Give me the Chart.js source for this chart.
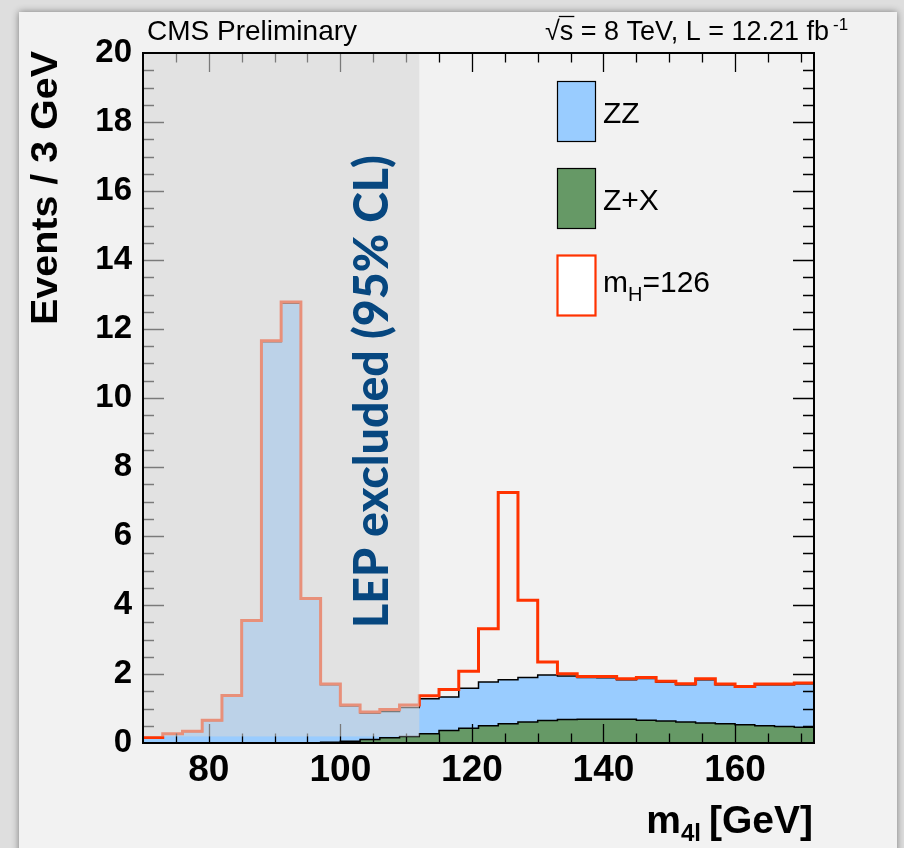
<!DOCTYPE html>
<html>
<head>
<meta charset="utf-8">
<title>CMS m4l</title>
<script src="https://cdn.jsdelivr.net/npm/chart.js@4.4.1/dist/chart.umd.min.js"></script>
<style>
  html, body { margin: 0; padding: 0; }
  body { width: 904px; height: 848px; background: #dedede; position: relative; overflow: hidden; }
  #panel {
    position: absolute; left: 19px; top: 12px; width: 878px; height: 850px;
    background: #f2f2f2; box-shadow: 0 0 7px rgba(0,0,0,0.45);
  }
  #plot { position: absolute; left: 0; top: 0; }
</style>
</head>
<body>
<div id="panel"></div>
<canvas id="plot" width="904" height="848"></canvas>
<script>
// bin edges of the m4l histogram (3 GeV bins)
const BIN_EDGES = [70,73,76,79,82,85,88,91,94,97,100,103,106,109,112,115,118,121,124,127,
                   130,133,136,139,142,145,148,151,154,157,160,163,166,169,172];

// events per bin, one value per bin
const ZX  = [0,0,0,0,0,0,0,0,0.01,0.02,0.05,0.10,0.15,0.19,
             0.27,0.36,0.43,0.50,0.56,0.61,0.65,0.68,0.69,0.69,0.69,0.66,0.64,0.61,0.58,0.56,0.53,0.50,0.48,0.46];
const ZZ  = [0.15,0.26,0.33,0.65,1.37,3.53,11.63,12.75,4.16,1.67,1.02,0.76,0.76,0.84,
             1.01,0.97,1.16,1.27,1.27,1.29,1.32,1.26,1.21,1.20,1.14,1.21,1.13,1.08,1.25,1.13,1.09,1.19,1.21,1.26];
const SIG = [0.01,0.01,0.01,0.01,0.01,0.02,0.03,0.03,0.02,0.02,0.03,0.04,0.06,0.07,
             0.09,0.22,0.49,1.54,5.43,2.24,0.38,0.07,0.03,0.04,0.03,0.03,0.02,0.03,0.03,0.02,0.02,0.02,0.02,0.02];

const X_TICKS = [80, 100, 120, 140, 160];
const Y_MAX = 20;
const LEP_X = [70, 112];     // LEP excluded band
const LEP_Y = [0.19, 20];

const FONT = "'Liberation Sans', Arial, Helvetica, sans-serif";
const C_ZZ = "#99ccff", C_ZX = "#669966", C_SIG = "#ff3300";

// stacked tops
const zxTop  = ZX.slice();
const zzTop  = ZX.map((v, i) => v + ZZ[i]);
const sigTop = zzTop.map((v, i) => v + SIG[i]);

function steps(tops) {
  return BIN_EDGES.map((e, i) => ({ x: e, y: tops[Math.min(i, tops.length - 1)] }));
}

// ─────────────────────────────────────────────
// decorations: inward ticks, LEP band, frame, texts
// ─────────────────────────────────────────────
const decor = {
  id: "decor",
  afterDatasetsDraw(chart) {
    const { ctx, chartArea: a, scales: { x, y } } = chart;
    ctx.save();

    // ticks on all four sides
    ctx.strokeStyle = "#000";
    ctx.lineWidth = 1.3;
    ctx.beginPath();
    for (let v = 75; v < 172; v += 5) {
      const px = Math.round(x.getPixelForValue(v)) + 0.5;
      const len = v % 20 === 0 ? 19 : 9.5;
      ctx.moveTo(px, a.bottom); ctx.lineTo(px, a.bottom - len);
      ctx.moveTo(px, a.top);    ctx.lineTo(px, a.top + len);
    }
    for (let v = 0.5; v < Y_MAX; v += 0.5) {
      const py = Math.round(y.getPixelForValue(v)) + 0.5;
      const len = v % 2 === 0 ? 21 : 11;
      ctx.moveTo(a.left, py);  ctx.lineTo(a.left + len, py);
      ctx.moveTo(a.right, py); ctx.lineTo(a.right - len, py);
    }
    ctx.stroke();

    // LEP excluded band (semi transparent)
    const bx0 = x.getPixelForValue(LEP_X[0]), bx1 = x.getPixelForValue(LEP_X[1]);
    const by0 = y.getPixelForValue(LEP_Y[0]), by1 = y.getPixelForValue(LEP_Y[1]);
    ctx.fillStyle = "rgba(214,214,214,0.57)";
    ctx.fillRect(bx0, by1, bx1 - bx0, by0 - by1);

    // LEP label
    ctx.fillStyle = "#07477f";
    ctx.font = "900 48px Lato, " + FONT;
    const lep = "LEP excluded (95% CL)";
    const lw = ctx.measureText(lep).width;
    ctx.translate(388, 628);
    ctx.rotate(-Math.PI / 2);
    ctx.scale(473 / lw, 1);
    ctx.textAlign = "left";
    ctx.textBaseline = "alphabetic";
    ctx.fillText(lep, 0, 0);
    ctx.restore();

    // frame
    ctx.save();
    ctx.strokeStyle = "#000";
    ctx.lineWidth = 2;
    ctx.strokeRect(a.left, a.top, a.right - a.left, a.bottom - a.top);
    ctx.restore();
  },
  afterDraw(chart) {
    const { ctx } = chart;
    ctx.save();
    ctx.fillStyle = "#000";
    ctx.textBaseline = "alphabetic";
    ctx.textAlign = "left";

    // header
    ctx.font = "28px " + FONT;
    ctx.fillText("CMS Preliminary", 147, 40);

    ctx.font = "27px " + FONT;
    const rad = "\u221A";
    const rw = ctx.measureText(rad).width;
    ctx.fillText(rad, 545, 40);
    const sw = ctx.measureText("s").width;
    ctx.fillText("s", 545 + rw, 40);
    ctx.lineWidth = 1.3;
    ctx.beginPath();
    ctx.moveTo(545 + rw - 1, 16.5);
    ctx.lineTo(545 + rw + sw + 1, 16.5);
    ctx.stroke();
    const rest = " = 8 TeV, L = 12.21 fb";
    ctx.fillText(rest, 545 + rw + sw, 40);
    const endX = 545 + rw + sw + ctx.measureText(rest).width;
    ctx.font = "17px " + FONT;
    ctx.fillText("-1", endX + 4, 30);

    // y title
    ctx.save();
    ctx.font = "bold 36px " + FONT;
    const yt = "Events / 3 GeV";
    const yw = ctx.measureText(yt).width;
    ctx.translate(57, 51);
    ctx.rotate(-Math.PI / 2);
    ctx.scale(274 / yw, 1);
    ctx.textAlign = "right";
    ctx.fillText(yt, 0, 0);
    ctx.restore();

    // x title: m_{4l} [GeV], right aligned to frame
    ctx.font = "bold 39px " + FONT;
    const wM = ctx.measureText("m").width;
    const wG = ctx.measureText("[GeV]").width;
    ctx.font = "bold 24px " + FONT;
    const wS = ctx.measureText("4l").width;
    let xs = 813 - (wM + wS + 8 + wG);
    ctx.font = "bold 39px " + FONT;
    ctx.fillText("m", xs, 833);
    ctx.font = "bold 24px " + FONT;
    ctx.fillText("4l", xs + wM, 841);
    ctx.font = "bold 39px " + FONT;
    ctx.fillText("[GeV]", xs + wM + wS + 8, 833);

    // legend
    const entries = [
      { top: 81,  fill: C_ZZ,   stroke: "#000", lw: 1.2 },
      { top: 168, fill: C_ZX,   stroke: "#000", lw: 1.2 },
      { top: 255, fill: "#fff", stroke: C_SIG, lw: 2.2 },
    ];
    entries.forEach(e => {
      ctx.fillStyle = e.fill;
      ctx.fillRect(557, e.top, 39, 60);
      ctx.strokeStyle = e.stroke;
      ctx.lineWidth = e.lw;
      ctx.strokeRect(557.5, e.top + 0.5, 38, 60);
    });
    ctx.fillStyle = "#000";
    ctx.font = "30px " + FONT;
    ctx.fillText("ZZ", 603, 123);
    ctx.fillText("Z+X", 603, 210);
    ctx.fillText("m", 603, 292);
    const mw = ctx.measureText("m").width;
    ctx.font = "20px " + FONT;
    ctx.fillText("H", 603 + mw, 301);
    const hw = ctx.measureText("H").width;
    ctx.font = "30px " + FONT;
    ctx.fillText("=126", 603 + mw + hw, 292);

    ctx.restore();
  }
};

Chart.defaults.font.family = FONT;

new Chart(document.getElementById("plot"), {
  type: "line",
  data: {
    datasets: [
      {
        label: "mH=126",
        data: steps(sigTop),
        stepped: "before",
        borderColor: C_SIG,
        borderWidth: 3,
        pointRadius: 0,
        fill: false,
        order: 0,
      },
      {
        label: "Z+X",
        data: steps(zxTop),
        stepped: "before",
        borderColor: "#000",
        borderWidth: 1.5,
        backgroundColor: C_ZX,
        pointRadius: 0,
        fill: "origin",
        order: 1,
      },
      {
        label: "ZZ",
        data: steps(zzTop),
        stepped: "before",
        borderColor: "#000",
        borderWidth: 1.5,
        backgroundColor: C_ZZ,
        pointRadius: 0,
        fill: "origin",
        order: 2,
      },
    ],
  },
  options: {
    responsive: false,
    animation: false,
    devicePixelRatio: 1,
    events: [],
    layout: { padding: { left: 0, top: 53, right: 90, bottom: 0 } },
    plugins: {
      legend: { display: false },
      tooltip: { enabled: false },
    },
    scales: {
      x: {
        type: "linear",
        min: 70,
        max: 172,
        grid: { display: false },
        border: { display: false },
        afterBuildTicks: s => { s.ticks = X_TICKS.map(v => ({ value: v })); },
        afterFit: s => { s.height = 105; },
        ticks: {
          color: "#000",
          font: { size: 37, weight: "bold" },
          padding: -2,
          maxRotation: 0,
          autoSkip: false,
        },
      },
      y: {
        min: 0,
        max: Y_MAX,
        grid: { display: false },
        border: { display: false },
        afterFit: s => { s.width = 143; },
        ticks: {
          stepSize: 2,
          color: "#000",
          font: { size: 33, weight: "bold" },
          padding: 3,
        },
      },
    },
  },
  plugins: [decor],
});
</script>
</body>
</html>
